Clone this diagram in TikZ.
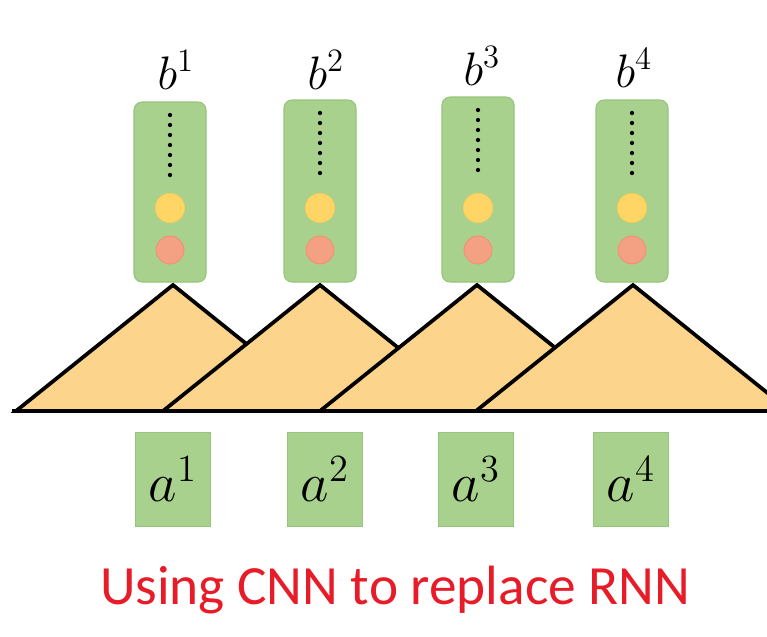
\documentclass[tikz,border=0pt]{standalone}
\usepackage{fontspec}
\newfontfamily\capfont{Carlito}
\definecolor{boxgreen}{RGB}{169,209,142}
\definecolor{boxedge}{RGB}{150,196,122}
\definecolor{trifill}{RGB}{252,212,140}
\definecolor{yelc}{RGB}{255,214,102}
\definecolor{redc}{RGB}{244,160,130}
\definecolor{capred}{RGB}{232,28,40}
\newcommand{\bigmath}[2]{\scalebox{#1}{\fontsize{20.74}{22}\selectfont$#2$}}
\tikzset{
  outbox/.style={draw=boxedge,line width=0.8pt,fill=boxgreen,rounded corners=6pt,minimum width=54pt,minimum height=135pt,inner sep=0pt},
  inbox/.style={draw=boxedge,line width=0.6pt,fill=boxgreen,minimum width=56pt,minimum height=71pt,inner sep=0pt},
  blabel/.style={inner sep=0pt},
  tri/.style={draw=black,line width=2.8pt,fill=trifill,line join=miter},
  yel/.style={circle,fill=yelc,draw=yelc!85!orange,line width=0.5pt,minimum size=22pt,inner sep=0pt},
  redd/.style={circle,fill=redc,draw=redc!85!red,line width=0.5pt,minimum size=21pt,inner sep=0pt},
}
\begin{document}
\begin{tikzpicture}[x=0.75pt,y=-0.75pt]
\useasboundingbox (0,0) rectangle (767,636);
\clip (0,0) rectangle (767,636);
\fill[white] (0,0) rectangle (767,636);
% triangles
\foreach \ax/\nm in {173/t1,320/t2,477/t3,633/t4}{
  \draw[tri] (\ax-157,411) -- (\ax,285) -- (\ax+157,411) -- cycle;
}
\coordinate (bl) at (12,411);
\coordinate (br) at (780,411);
\draw[black,line width=3.2pt] (bl) -- (br);
% top boxes
\foreach \i/\cx/\top in {1/170/102,2/320/100,3/478/97,4/632/100}{
  \node[outbox,minimum height={(282-\top)*0.75pt}] (b\i) at (\cx,{(282+\top)/2}) {};
  \foreach \k in {0,...,6}{
    \fill[black] (\cx,{\top+13+\k*10}) circle (1.6pt);
  }
  \node[yel] (y\i) at (\cx,208) {};
  \node[redd] (r\i) at (\cx,250) {};
}
% b labels
\node[blabel] (lb1) at (176,70) {\bigmath{1.7}{b^1}};
\node[blabel] (lb2) at (326,70) {\bigmath{1.7}{b^2}};
\node[blabel] (lb3) at (482,66) {\bigmath{1.7}{b^3}};
\node[blabel] (lb4) at (634,68) {\bigmath{1.7}{b^4}};
% bottom boxes
\node[inbox] (a1) at (173,479.5) {\bigmath{2.0}{a^1}};
\node[inbox] (a2) at (325,479.5) {\bigmath{2.0}{a^2}};
\node[inbox] (a3) at (476,479.5) {\bigmath{2.0}{a^3}};
\node[inbox] (a4) at (631,479.5) {\bigmath{2.0}{a^4}};
% caption
\node[font=\capfont\fontsize{41.5}{42}\selectfont,text=capred,inner sep=0pt] (cap) at (395,590) {Using CNN to replace RNN};
\end{tikzpicture}
\end{document}
